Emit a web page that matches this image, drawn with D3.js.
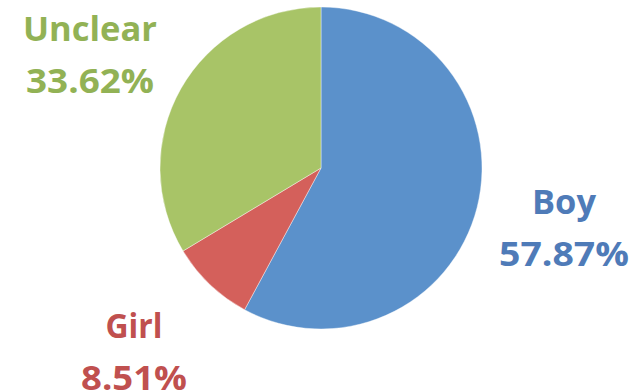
<!DOCTYPE html>
<html>
<head>
<meta charset="utf-8">
<script src="https://cdn.jsdelivr.net/npm/d3@7"></script>
<style>
  html, body { margin: 0; padding: 0; background: #ffffff; }
  svg { display: block; }
  text { font-family: "Open Sans", "Noto Sans", sans-serif; font-weight: 700; }
</style>
</head>
<body>
<svg id="chart" width="634" height="391"></svg>
<script>
// Share of each group, in percent
const categories = ["Boy", "Girl", "Unclear"];
const shares = [57.87, 8.51, 33.62];
const percentLabels = ["57.87%", "8.51%", "33.62%"];

const sliceColors = ["#5b91cb", "#d4605b", "#a8c467"];
const textColors = ["#4f7bb8", "#c0504f", "#92b255"];

const width = 634, height = 391;
const cx = 321, cy = 168, radius = 161;

const svg = d3.select("#chart");

const pie = d3.pie().sort(null).value(d => d.value);
const arcs = pie(categories.map((c, i) => ({ name: c, value: shares[i], i })));

const arc = d3.arc().innerRadius(0).outerRadius(radius);

const g = svg.append("g").attr("transform", `translate(${cx},${cy})`);

g.selectAll("path")
  .data(arcs)
  .join("path")
  .attr("d", arc)
  .attr("fill", d => sliceColors[d.data.i])
  .attr("stroke", "rgba(255,255,255,0.5)")
  .attr("stroke-width", 0.8);

// Two-line labels placed beside their slices
const labelPos = [
  { x: 564, y1: 214, y2: 266, w1: 64, w2: 130 },
  { x: 134, y1: 338, y2: 390, w1: 57, w2: 106 },
  { x: 90,  y1: 41,  y2: 93,  w1: 134, w2: 128 }
];

const labels = svg.selectAll("g.label")
  .data(arcs)
  .join("g")
  .attr("class", "label")
  .attr("fill", d => textColors[d.data.i]);

labels.append("text")
  .attr("x", d => labelPos[d.data.i].x)
  .attr("y", d => labelPos[d.data.i].y1)
  .attr("text-anchor", "middle")
  .attr("font-size", 34)
  .attr("textLength", d => labelPos[d.data.i].w1)
  .attr("lengthAdjust", "spacingAndGlyphs")
  .text(d => d.data.name);

labels.append("text")
  .attr("x", d => labelPos[d.data.i].x)
  .attr("y", d => labelPos[d.data.i].y2)
  .attr("text-anchor", "middle")
  .attr("font-size", 34)
  .attr("textLength", d => labelPos[d.data.i].w2)
  .attr("lengthAdjust", "spacingAndGlyphs")
  .text(d => percentLabels[d.data.i]);
</script>
</body>
</html>
